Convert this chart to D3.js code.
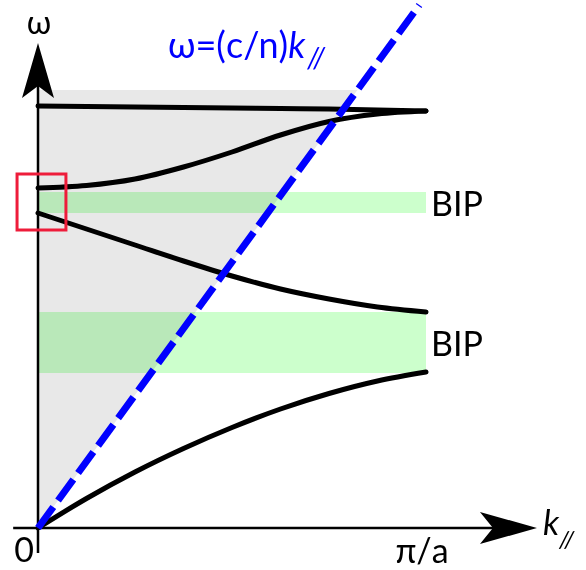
<!DOCTYPE html>
<html>
<head>
<meta charset="utf-8">
<script src="https://cdn.jsdelivr.net/npm/d3@7"></script>
<style>
  html, body { margin: 0; padding: 0; background: #fff; }
  svg { display: block; font-family: Lato, "Open Sans", sans-serif; }
</style>
</head>
<body>
<svg width="586" height="570"></svg>
<script>
// wave vector samples, 0 .. pi/a
const kSamples = [0, 0.125, 0.25, 0.375, 0.5, 0.625, 0.75, 0.875, 1];

// the four bands (omega, arbitrary units)
const branch1 = [0, 5.9, 11.2, 15.9, 20.1, 23.8, 26.9, 29.4, 31.2];
const branch2 = [63, 59.8, 56.6, 53.4, 50.4, 47.8, 45.8, 44.2, 43.2];
const branch3 = [68, 68.5, 69.8, 72.2, 75.2, 78.6, 81.3, 82.8, 83.4];
const branch4 = [84.4, 84.3, 84.2, 84.1, 84.0, 83.9, 83.8, 83.6, 83.4];
const branches = [branch1, branch2, branch3, branch4];

// band gaps (BIP)
const gapLow = [31, 63];
const gapHigh = [43.2, 67.2];
const gapLabels = ["BIP", "BIP"];

// light line w = (c/n) k
const lightK = [0, 0.983];
const lightW = [0, 104.6];
const coneTop = 87.6;

// small box round k=0
const boxK = [-0.054, 0.072];
const boxW = [59.6, 70.8];

// axes
const axisK = [-0.064, 1.286];
const axisW = [-5, 97];
const tickLabels = ["0", "π/a"];

const svg = d3.select("svg");
const x = d3.scaleLinear().domain([0, 1]).range([38, 426]);
const y = d3.scaleLinear().domain([0, 100]).range([528, 28]);

// light cone (gray)
const coneK = coneTop * lightK[1] / lightW[1];
svg.append("path")
  .attr("d", d3.line()([[x(0), y(0)], [x(0), y(coneTop)], [x(coneK), y(coneTop)]]) + "Z")
  .attr("fill", "#e8e8e8");

// band gaps
svg.selectAll(".gap")
  .data(gapLow)
  .enter()
  .append("rect")
  .attr("class", "gap")
  .attr("x", x(0) + 1)
  .attr("width", x(1) - x(0) - 1)
  .attr("y", (d, i) => y(gapHigh[i]))
  .attr("height", (d, i) => y(d) - y(gapHigh[i]))
  .attr("fill", "#ccffcc")
  .style("mix-blend-mode", "multiply");

// axes
svg.append("line")
  .attr("x1", x(axisK[0])).attr("x2", x(axisK[1]) - 40)
  .attr("y1", y(0)).attr("y2", y(0))
  .attr("stroke", "black").attr("stroke-width", 2.5);
svg.append("line")
  .attr("x1", x(0)).attr("x2", x(0))
  .attr("y1", y(axisW[0])).attr("y2", y(axisW[1]) + 40)
  .attr("stroke", "black").attr("stroke-width", 2.5);

// arrow heads
const tx = x(axisK[1]), ty = y(axisW[1]);
svg.append("path")
  .attr("d", `M${tx},${y(0)} L${tx - 57},${y(0) - 16} L${tx - 44},${y(0)} L${tx - 57},${y(0) + 16} Z`)
  .attr("fill", "black");
svg.append("path")
  .attr("d", `M${x(0)},${ty} L${x(0) - 16},${ty + 55} L${x(0)},${ty + 43} L${x(0) + 16},${ty + 55} Z`)
  .attr("fill", "black");

// bands
const bandLine = d3.line()
  .x((d, i) => x(kSamples[i]))
  .y((d) => y(d))
  .curve(d3.curveMonotoneX);

svg.selectAll(".branch")
  .data(branches)
  .enter()
  .append("path")
  .attr("class", "branch")
  .attr("d", bandLine)
  .attr("fill", "none")
  .attr("stroke", "black")
  .attr("stroke-width", 5)
  .attr("stroke-linecap", "round");

// light line
svg.append("line")
  .attr("x1", x(lightK[0])).attr("y1", y(lightW[0]))
  .attr("x2", x(lightK[1])).attr("y2", y(lightW[1]))
  .attr("stroke", "#0000ff")
  .attr("stroke-width", 7)
  .attr("stroke-dasharray", "26 8");

// red box
svg.append("rect")
  .attr("x", x(boxK[0])).attr("y", y(boxW[1]))
  .attr("width", x(boxK[1]) - x(boxK[0]))
  .attr("height", y(boxW[0]) - y(boxW[1]))
  .attr("fill", "none")
  .attr("stroke", "#ee1c3a")
  .attr("stroke-width", 3);

// texts
svg.selectAll(".bip")
  .data(gapLabels)
  .enter()
  .append("text")
  .attr("class", "bip")
  .attr("x", x(1) + 5)
  .attr("y", (d, i) => y((gapLow[i] + gapHigh[i]) / 2))
  .attr("dominant-baseline", "central")
  .attr("font-size", 34)
  .text((d) => d);

svg.append("text")
  .attr("x", x(0) - 14).attr("y", y(0) + 34)
  .attr("text-anchor", "middle").attr("font-size", 34)
  .text(tickLabels[0]);
svg.append("text")
  .attr("x", x(1) - 4).attr("y", y(0) + 35)
  .attr("text-anchor", "middle").attr("font-size", 34)
  .text(tickLabels[1]);

svg.append("text")
  .attr("x", x(0) + 1).attr("y", ty - 9)
  .attr("text-anchor", "middle").attr("font-size", 32)
  .text("ω");

const kLab = svg.append("text")
  .attr("x", tx + 6).attr("y", y(0) + 7)
  .attr("font-size", 34);
kLab.append("tspan").attr("font-style", "italic").text("k");
kLab.append("tspan").attr("font-style", "italic").attr("font-size", 24).attr("dy", 13).text("//");

const lightLab = svg.append("text")
  .attr("x", 168).attr("y", 58)
  .attr("fill", "#0000ff")
  .attr("font-size", 36);
lightLab.append("tspan").text("ω=(c/n)");
lightLab.append("tspan").attr("font-style", "italic").text("k");
lightLab.append("tspan").attr("font-style", "italic").attr("font-size", 28).attr("dy", 10).attr("dx", 2).text("//");
</script>
</body>
</html>
